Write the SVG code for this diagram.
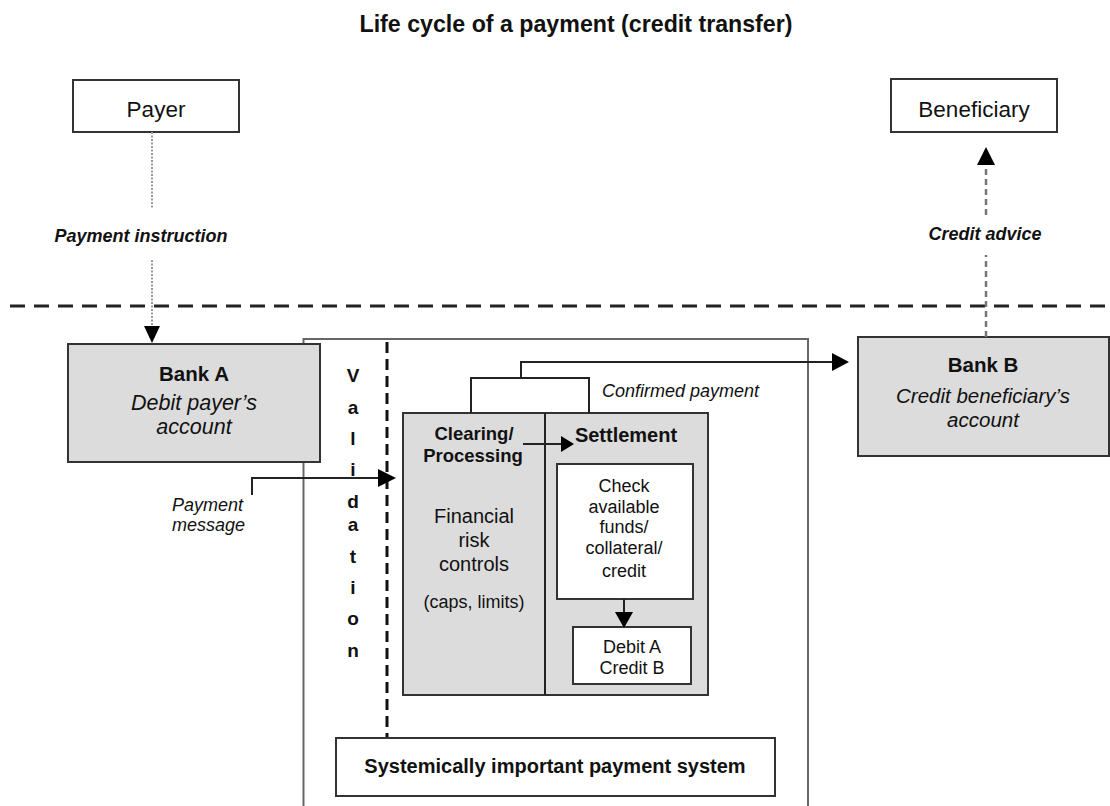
<svg xmlns="http://www.w3.org/2000/svg" width="1110" height="806" viewBox="0 0 1110 806">
<style>
text{font-family:"Liberation Sans",Arial,sans-serif;fill:#111}
.b{font-weight:bold}
.i{font-style:italic}
.box{fill:#fff;stroke:#333;stroke-width:2}
.grey{fill:#dcdcdc;stroke:#333;stroke-width:2}
.ln{fill:none;stroke:#222;stroke-width:2}
.hd{fill:#000}
</style>
<rect width="1110" height="806" fill="#fff"/>
<text class="b" x="576" y="32" font-size="23.2" text-anchor="middle">Life cycle of a payment (credit transfer)</text>

<g id="divider">
<line x1="10" y1="306" x2="1110" y2="306" stroke="#222" stroke-width="3" stroke-dasharray="15,9"/>
</g>

<g id="system">
<path d="M303.5,806 V339 H808 V806" fill="none" stroke="#666" stroke-width="2"/>
<line x1="387" y1="342" x2="387" y2="738" stroke="#111" stroke-width="3" stroke-dasharray="11,6"/>
<g font-size="19" class="b" text-anchor="middle">
<text x="353" y="382" class="b">V</text>
<text x="353" y="414" class="b">a</text>
<text x="353" y="445" class="b">l</text>
<text x="353" y="476" class="b">i</text>
<text x="353" y="508" class="b">d</text>
<text x="353" y="531" class="b">a</text>
<text x="353" y="563" class="b">t</text>
<text x="353" y="594" class="b">i</text>
<text x="353" y="625" class="b">o</text>
<text x="353" y="657" class="b">n</text>
</g>
</g>

<g id="payer">
<rect class="box" x="73" y="80" width="166" height="52"/>
<text x="156" y="117" font-size="22.5" text-anchor="middle">Payer</text>
</g>

<g id="beneficiary">
<rect class="box" x="891" y="79" width="166" height="53"/>
<text x="974" y="117" font-size="22.5" text-anchor="middle">Beneficiary</text>
</g>

<g id="bankA">
<rect class="grey" x="68" y="344" width="252" height="118"/>
<text class="b" x="194" y="381" font-size="20.5" text-anchor="middle">Bank A</text>
<text class="i" x="194" y="410" font-size="21.5" text-anchor="middle">Debit payer’s</text>
<text class="i" x="194" y="434" font-size="21.5" text-anchor="middle">account</text>
</g>

<g id="bankB">
<rect class="grey" x="858" y="337" width="251" height="119"/>
<text class="b" x="983" y="372" font-size="20.5" text-anchor="middle">Bank B</text>
<text class="i" x="983" y="403" font-size="20.5" text-anchor="middle">Credit beneficiary’s</text>
<text class="i" x="983" y="427" font-size="20.5" text-anchor="middle">account</text>
</g>

<g id="clearing">
<rect class="grey" x="403" y="413" width="305" height="282"/>
<line x1="545" y1="413" x2="545" y2="695" stroke="#222" stroke-width="2"/>
<text class="b" x="474" y="440" font-size="18.5" text-anchor="middle">Clearing/</text>
<text class="b" x="473" y="462" font-size="18.5" text-anchor="middle">Processing</text>
<text x="474" y="523" font-size="20" text-anchor="middle">Financial</text>
<text x="474" y="547" font-size="20" text-anchor="middle">risk</text>
<text x="474" y="571" font-size="20" text-anchor="middle">controls</text>
<text x="474" y="608" font-size="18" text-anchor="middle">(caps, limits)</text>
</g>

<g id="settlement">
<text class="b" x="626" y="442" font-size="20" text-anchor="middle">Settlement</text>
</g>

<g id="check">
<rect class="box" x="557" y="464" width="136" height="135"/>
<g font-size="18" text-anchor="middle">
<text x="624" y="492">Check</text>
<text x="624" y="513">available</text>
<text x="624" y="533">funds/</text>
<text x="624" y="554">collateral/</text>
<text x="624" y="577">credit</text>
</g>
</g>

<g id="debit">
<rect class="box" x="573" y="627" width="118" height="57"/>
<text x="632" y="653" font-size="18" text-anchor="middle">Debit A</text>
<text x="632" y="674" font-size="18" text-anchor="middle">Credit B</text>
</g>

<g id="sips">
<rect class="box" x="336" y="738" width="439" height="58"/>
<text class="b" x="555" y="773" font-size="20" text-anchor="middle">Systemically important payment system</text>
</g>

<g id="connectors">
<line x1="152" y1="132" x2="152" y2="208" stroke="#999" stroke-width="2" stroke-dasharray="2,1.5"/>
<line x1="152" y1="260" x2="152" y2="328" stroke="#999" stroke-width="2" stroke-dasharray="2,1.5"/>
<polygon class="hd" points="144,326 160,326 152,343"/>
<text class="b i" x="141" y="242" font-size="18" text-anchor="middle">Payment instruction</text>

<line x1="986" y1="337" x2="986" y2="255" stroke="#777" stroke-width="2.5" stroke-dasharray="6,4"/>
<line x1="986" y1="215" x2="986" y2="164" stroke="#777" stroke-width="2.5" stroke-dasharray="6,4"/>
<polygon class="hd" points="977,165 995,165 986,147"/>
<text class="b i" x="985" y="240" font-size="18" text-anchor="middle">Credit advice</text>

<polyline class="ln" points="252,495 252,478 382,478"/>
<polygon class="hd" points="378,469 396,478 378,487"/>
<text class="i" x="243" y="511" font-size="18" text-anchor="end">Payment</text>
<text class="i" x="245" y="531" font-size="18" text-anchor="end">message</text>

<line class="ln" x1="523" y1="444" x2="562" y2="444"/>
<polygon class="hd" points="561,436 574,444 561,452"/>

<line class="ln" x1="624" y1="599" x2="624" y2="614"/>
<polygon class="hd" points="615,612 633,612 624,628"/>

<polyline class="ln" points="471,413 471,378 589,378 589,413"/>
<polyline class="ln" points="521,378 521,362 834,362"/>
<polygon class="hd" points="832,353 849,362 832,371"/>
<text class="i" x="602" y="397" font-size="18">Confirmed payment</text>
</g>
</svg>
